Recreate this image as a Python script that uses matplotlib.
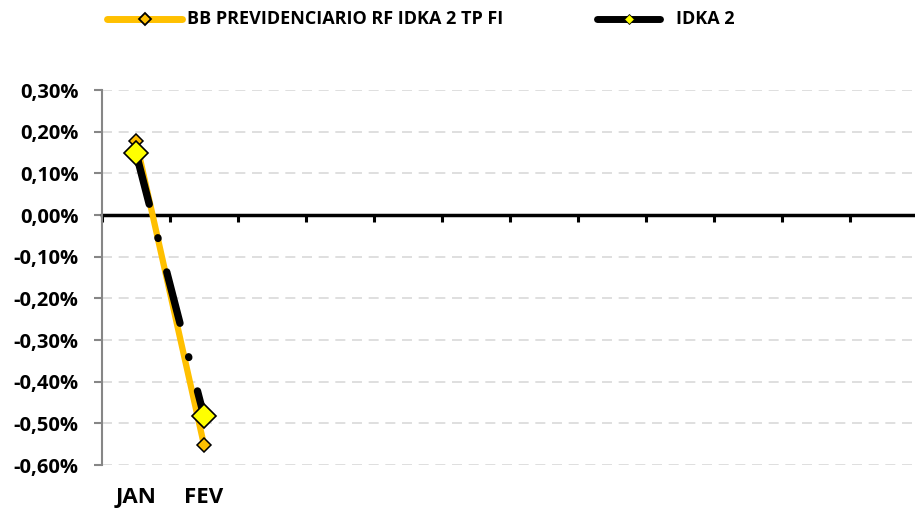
import matplotlib
matplotlib.use('Agg')
import matplotlib.pyplot as plt
from matplotlib.lines import Line2D
from matplotlib.ticker import FuncFormatter
import matplotlib.transforms as mtransforms

plt.rcParams['font.family'] = ['Open Sans', 'DejaVu Sans']
plt.rcParams['font.weight'] = 'bold'

# data (% monthly return)
months = ['JAN', 'FEV', '', '', '', '', '', '', '', '', '', '']
fund_name = 'BB PREVIDENCIARIO RF IDKA 2 TP FI'
bench_name = 'IDKA 2'
fund_values = [0.178, -0.552]
bench_values = [0.149, -0.483]

W, H = 915, 511
fig = plt.figure(figsize=(W / 100, H / 100), dpi=100)
ax = fig.add_axes([102 / W, 46 / H, 816 / W, 375 / H])

x_fund = [i + 0.5 for i in range(len(fund_values))]
x_bench = [i + 0.5 for i in range(len(bench_values))]

ax.plot(x_fund, fund_values, color='#FFC000', lw=4.5, solid_capstyle='round',
        marker='D', ms=7, mfc='#FFC000', mec='black', mew=1.1, zorder=3)
bench_line, = ax.plot(x_bench, bench_values, color='black', lw=5.3, dash_capstyle='round',
                      marker='D', ms=12, mfc='#FFFF00', mec='black', mew=1.2, zorder=4)
bench_line.set_dashes((7.2, 4.7, 0.1, 4.7))

ax.set_xlim(0, len(months))
ax.set_ylim(-0.6, 0.3)
ax.set_yticks([-0.6, -0.5, -0.4, -0.3, -0.2, -0.1, 0.0, 0.1, 0.2, 0.3])
ax.yaxis.set_major_formatter(FuncFormatter(lambda v, p: f'{v:.2f}%'.replace('.', ',')))
ax.tick_params(axis='y', labelsize=14.5, length=6, width=1.5, color='#868686', pad=11)
for lab in ax.get_yticklabels():
    lab.set_fontweight('bold')

ax.grid(axis='y', color='#d9d9d9', lw=1.2, linestyle=(0, (6, 4)))
ax.set_axisbelow(True)

for s in ['top', 'right']:
    ax.spines[s].set_visible(False)
ax.spines['left'].set_color('#868686')
ax.spines['left'].set_linewidth(1.5)
ax.spines['bottom'].set_position(('data', 0))
ax.spines['bottom'].set_linewidth(2.5)
ax.spines['bottom'].set_zorder(2)

ax.set_xticks(range(len(months) + 1))
ax.set_xticklabels([])
ax.tick_params(axis='x', length=5, width=2.2, color='black', direction='out')

trans = mtransforms.blended_transform_factory(ax.transData, ax.transAxes)
for i, m in enumerate(months):
    ax.text(i + 0.5, -0.087, m, transform=trans, ha='center', va='center',
            fontsize=16, fontweight='bold')

# legend drawn by hand to match placement
ly = 1 - 19.5 / H
legend_items = [
    (fund_name, 107, 182, dict(color='#FFC000', mfc='#FFC000', mec='black', ms=6, mew=1.3), 187),
    (bench_name, 597, 660, dict(color='black', mfc='#FFFF00', mec='black', ms=5, mew=0.6), 676),
]
for name, x0, x1, st, tx in legend_items:
    fig.add_artist(Line2D([x0 / W, x1 / W], [ly, ly], transform=fig.transFigure,
                          lw=5, solid_capstyle='round', color=st['color']))
    fig.add_artist(Line2D([(x0 + x1) / 2 / W], [ly], transform=fig.transFigure,
                          marker='D', ls='none', ms=st['ms'], mfc=st['mfc'],
                          mec=st['mec'], mew=st['mew']))
    fig.text(tx / W, ly, name, ha='left', va='center', fontsize=13, fontweight='bold')

fig.savefig('out.png', dpi=100)
